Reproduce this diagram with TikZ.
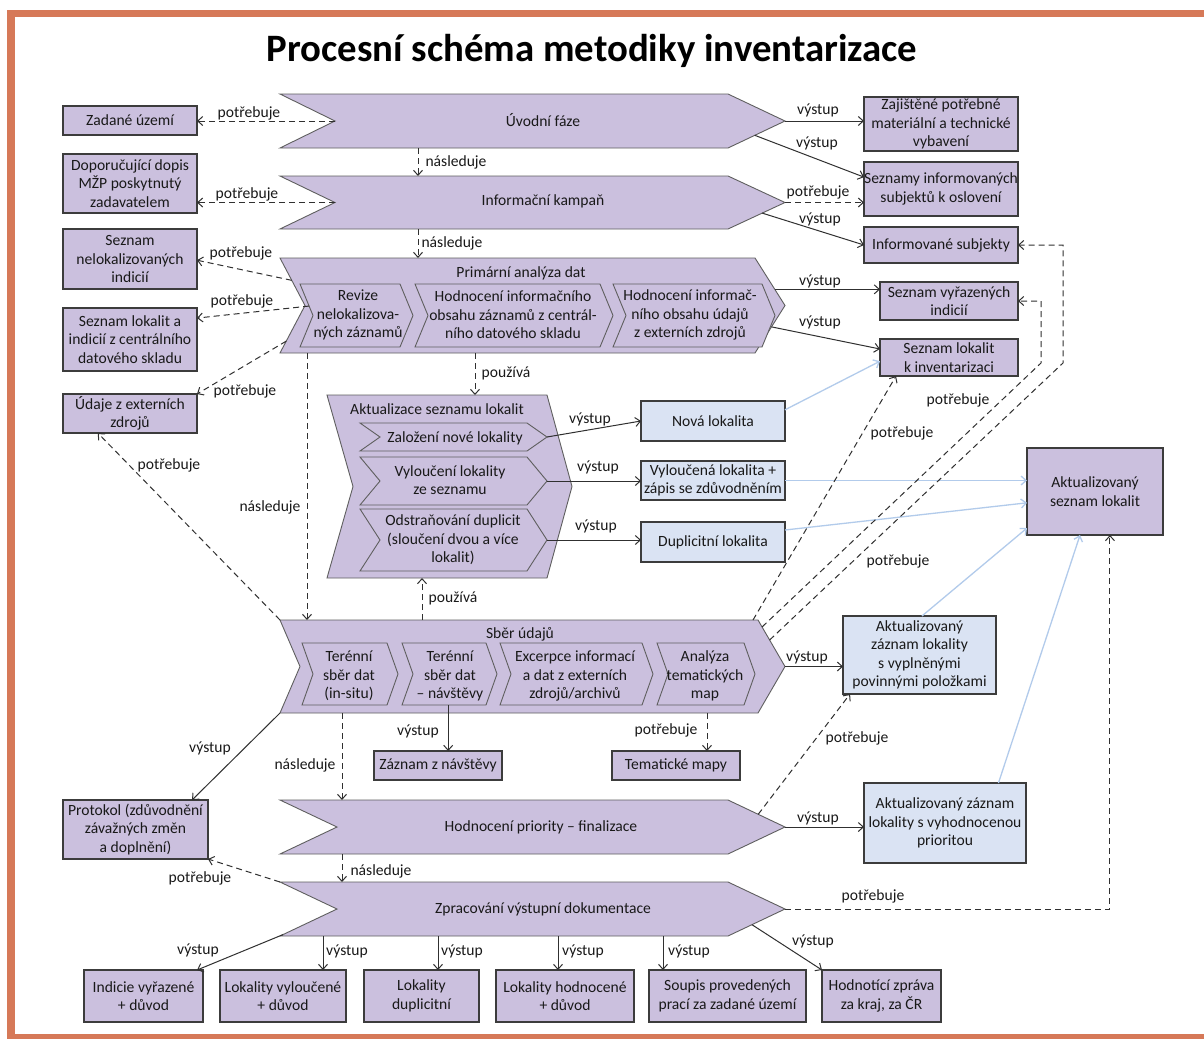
\documentclass[tikz,border=0pt]{standalone}
\usepackage{fontspec}
\setmainfont{Carlito}
\usetikzlibrary{arrows.meta,calc}

\definecolor{procfill}{RGB}{203,192,222}
\definecolor{outfill}{RGB}{218,227,243}
\definecolor{edgegray}{RGB}{60,60,60}
\definecolor{shapegray}{RGB}{95,95,95}
\definecolor{linkblue}{RGB}{178,203,235}
\definecolor{framecol}{RGB}{214,121,88}
\definecolor{inkcol}{RGB}{25,25,25}

\newcommand{\diagfont}{\fontsize{15.6}{18.4}\selectfont}

% process chevron: name, left x, top y, tip x, bottom y, notch depth, tip depth
\newcommand{\chevpath}[7]{%
  \path[chevshape] (#2,#3) -- ({#4-#7},#3) -- (#4,{(#3+#5)/2}) -- ({#4-#7},#5) -- (#2,#5) -- ({#2+#6},{(#3+#5)/2}) -- cycle;
  \coordinate (#1-nw) at (#2,#3);
  \coordinate (#1-ne) at ({#4-#7},#3);
  \coordinate (#1-tip) at (#4,{(#3+#5)/2});
  \coordinate (#1-se) at ({#4-#7},#5);
  \coordinate (#1-sw) at (#2,#5);
  \coordinate (#1-notch) at ({#2+#6},{(#3+#5)/2});
}
% rectangular box given by its corners: style, name, x1, y1, x2, y2, text
\newcommand{\boxnode}[7]{%
  \node[#1, minimum width={#5-#3}, minimum height={#6-#4}] (#2) at ({(#3+#5)/2},{(#4+#6)/2}) {#7};
}

\tikzset{
  chevshape/.style={fill=procfill, draw=shapegray, line width=0.9pt, line join=miter},
  pbox/.style={rectangle, fill=procfill, draw=edgegray, line width=1.3pt, inner sep=0pt, outer sep=0pt, align=center, text=inkcol},
  obox/.style={pbox, fill=outfill},
  txt/.style={align=center, text=inkcol, inner sep=0pt},
  lbl/.style={text=inkcol, inner sep=0pt},
  link/.style={draw=inkcol!90, line width=1pt, -{Straight Barb[length=5pt,width=9pt]}},
  dlink/.style={link, dash pattern=on 6pt off 4pt},
  blink/.style={draw=linkblue, line width=1.3pt, -{Straight Barb[length=5pt,width=9pt]}},
}

\begin{document}
\begin{tikzpicture}[x=1pt,y=-1pt,font=\diagfont]
\useasboundingbox (0,0) rectangle (1204,1039);
\fill[white] (0,0) rectangle (1204,1039);

% page frame
\fill[framecol] (7,10) rectangle (1204,17);
\fill[framecol] (7,10) rectangle (15,1039);
\fill[framecol] (7,1034) rectangle (1204,1039);

% title
\node[font=\fontsize{38.8}{44}\selectfont\bfseries, anchor=base, inner sep=0pt] (title) at (592,61) {Procesní schéma metodiky inventarizace};

% ---------- process chevrons ----------
\chevpath{uv}{280}{94}{785}{148}{55}{57}
\chevpath{ik}{280}{176}{785}{229}{55}{57}
\chevpath{pa}{280}{258}{785}{353}{25}{30}
\chevpath{pa1}{300}{284}{413}{347}{13}{13}
\chevpath{pa2}{415}{284}{613}{347}{13}{13}
\chevpath{pa3}{613}{284}{775}{347}{13}{13}
\chevpath{ak}{327}{395}{572}{578}{26}{25}
\chevpath{ak1}{360}{423}{547}{451}{20}{20}
\chevpath{ak2}{360}{457}{547}{505}{20}{20}
\chevpath{ak3}{360}{509}{547}{571}{20}{20}
\chevpath{sb}{280}{620}{785}{713}{20}{27}
\chevpath{sb1}{302}{643}{398}{705}{11}{11}
\chevpath{sb2}{402}{643}{497}{705}{11}{11}
\chevpath{sb3}{500}{643}{653}{705}{11}{11}
\chevpath{sb4}{657}{643}{755}{705}{11}{11}
\chevpath{hp}{280}{800}{785}{854}{57}{57}
\chevpath{zp}{280}{882}{785}{936}{57}{57}

\node[txt] (t-uv) at (543,120) {Úvodní fáze};
\node[txt] (t-ik) at (543,201) {Informační kampaň};
\node[txt] (t-pa) at (521,273) {Primární analýza dat};
\node[txt] (t-pa1) at (358,315) {Revize\\nelokalizova-\\ných záznamů};
\node[txt] (t-pa2) at (513,315) {Hodnocení informačního\\obsahu záznamů z centrál-\\ního datového skladu};
\node[txt] (t-pa3) at (690,315) {Hodnocení informač-\\ního obsahu údajů\\z externích zdrojů};
\node[txt] (t-ak) at (437,409) {Aktualizace seznamu lokalit};
\node[txt] (t-ak1) at (455,438) {Založení nové lokality};
\node[txt] (t-ak2) at (450,480) {Vyloučení lokality\\ze seznamu};
\node[txt] (t-ak3) at (453,540) {Odstraňování duplicit\\(sloučení dvou a více\\lokalit)};
\node[txt] (t-sb) at (520,634) {Sběr údajů};
\node[txt] (t-sb1) at (349,676) {Terénní\\sběr dat\\(in-situ)};
\node[txt] (t-sb2) at (450,676) {Terénní\\sběr dat\\– návštěvy};
\node[txt] (t-sb3) at (575,676) {Excerpce informací\\a dat z externích\\zdrojů/archivů};
\node[txt] (t-sb4) at (705,676) {Analýza\\tematických\\map};
\node[txt] (t-hp) at (541,827) {Hodnocení priority – finalizace};
\node[txt] (t-zp) at (543,909) {Zpracování výstupní dokumentace};

% ---------- boxes ----------
\boxnode{pbox}{zad}{63}{106}{197}{135}{Zadané území}
\boxnode{pbox}{dop}{63}{154}{197}{213}{Doporučující dopis\\MŽP poskytnutý\\zadavatelem}
\boxnode{pbox}{snl}{63}{229}{197}{289}{Seznam\\nelokalizovaných\\indicií}
\boxnode{pbox}{sli}{63}{308}{197}{371}{Seznam lokalit a\\indicií z centrálního\\datového skladu}
\boxnode{pbox}{ext}{63}{394}{197}{433}{Údaje z externích\\zdrojů}
\boxnode{pbox}{zaj}{864}{97}{1018}{151}{Zajištěné potřebné\\materiální a technické\\vybavení}
\boxnode{pbox}{sio}{864}{162}{1018}{216}{Seznamy informovaných\\subjektů k oslovení}
\boxnode{pbox}{inf}{864}{227}{1018}{263}{Informované subjekty}
\boxnode{pbox}{svi}{880}{282}{1018}{320}{Seznam vyřazených\\indicií}
\boxnode{pbox}{ski}{880}{339}{1018}{376}{Seznam lokalit\\k inventarizaci}
\boxnode{obox}{nov}{641}{401}{785}{441}{Nová lokalita}
\boxnode{obox}{vyl}{641}{461}{785}{500}{Vyloučená lokalita +\\zápis se zdůvodněním}
\boxnode{obox}{dup}{641}{522}{785}{562}{Duplicitní lokalita}
\boxnode{pbox}{asl}{1027}{448}{1163}{535}{Aktualizovaný\\seznam lokalit}
\boxnode{obox}{azl}{843}{616}{996}{694}{Aktualizovaný\\záznam lokality\\s vyplněnými\\povinnými položkami}
\boxnode{pbox}{zzn}{374}{751}{502}{780}{Záznam z návštěvy}
\boxnode{pbox}{tem}{612}{751}{740}{780}{Tematické mapy}
\boxnode{pbox}{pro}{63}{800}{208}{859}{Protokol (zdůvodnění\\závažných změn\\a doplnění)}
\boxnode{obox}{azp}{864}{783}{1026}{863}{Aktualizovaný záznam\\lokality s vyhodnocenou\\prioritou}
\boxnode{pbox}{b1}{84}{970}{203}{1022}{Indicie vyřazené\\+ důvod}
\boxnode{pbox}{b2}{220}{970}{346}{1022}{Lokality vyloučené\\+ důvod}
\boxnode{pbox}{b3}{364}{970}{479}{1022}{Lokality\\duplicitní}
\boxnode{pbox}{b4}{496}{970}{634}{1022}{Lokality hodnocené\\+ důvod}
\boxnode{pbox}{b5}{649}{970}{806}{1022}{Soupis provedených\\prací za zadané území}
\boxnode{pbox}{b6}{822}{970}{941}{1022}{Hodnotící zpráva\\za kraj, za ČR}

% ---------- turning points and attachment points ----------
\coordinate (k1) at (1063,363);
\coordinate (k2) at (1041,363);
\coordinate (cc) at ($(sb2-sw)!0.55!(sb2-se)$);
\coordinate (dd) at ($(sb-sw)+(427,0)$);
\coordinate (o1) at ($(zp-sw)+(43,0)$);
\coordinate (o2) at ($(zp-sw)+(158,0)$);
\coordinate (o3) at ($(zp-sw)+(278,0)$);
\coordinate (o4) at ($(zp-sw)+(383,0)$);
\coordinate (pi) at ($(pa-ne)!0.66!(pa-tip)$);

% ---------- connectors: first phases ----------
\draw[dlink] (uv-notch) -- (uv-notch -| zad.east);
\draw[dlink] (ik-notch) -- (ik-notch -| dop.east);
\draw[dlink] ($(uv-sw)+(138,0)$) -- ($(ik-nw)+(138,0)$);
\draw[dlink] ($(ik-sw)+(138,0)$) -- ($(pa-nw)+(138,0)$);
\draw[link] (uv-tip) -- (uv-tip -| zaj.west);
\draw[link] ($(uv-se)!0.47!(uv-tip)$) -- ($(sio.north west)!0.28!(sio.south west)$);
\draw[dlink] (ik-tip) -- (ik-tip -| sio.west);
\draw[link] ($(ik-se)!0.6!(ik-tip)$) -- (inf.west);

% primary analysis
\draw[link] (pi) -- (pi -| svi.west);
\draw[link] ($(pa-tip)!0.45!(pa-se)$) -- ($(ski.north west)!0.27!(ski.south west)$);
\draw[dlink] ($(pa-nw)!0.47!(pa-notch)$) -- ($(snl.north east)!0.52!(snl.south east)$);
\draw[dlink] ($(pa1-nw)!0.7!(pa1-notch)$) -- ($(sli.north east)!0.16!(sli.south east)$);
\draw[dlink] ($(pa-notch)!0.75!(pa-sw)$) -- (ext.north east);
\draw[dlink] ($(pa-sw)+(27,0)$) -- ($(sb-nw)+(27,0)$);
\draw[dlink] ($(pa-sw)+(195,0)$) -- ($(ak-nw)+(148,0)$);

% list update
\draw[dlink] ($(sb-nw)+(142,0)$) -- ($(ak-sw)+(95,0)$);
\draw[link] (ak1-tip) -- (nov.west);
\draw[link] (ak2-tip) -- (ak2-tip -| vyl.west);
\draw[link] (ak3-tip) -- (ak3-tip -| dup.west);
\draw[blink] ($(nov.north east)!0.22!(nov.south east)$) -- ($(ski.north west)!0.6!(ski.south west)$);
\draw[blink] (vyl.east) -- (vyl.east -| asl.west);
\draw[blink] ($(dup.north east)!0.2!(dup.south east)$) -- ($(asl.north west)!0.63!(asl.south west)$);
\draw[blink] ($(azl.north west)!0.516!(azl.north east)$) -- ($(asl.north west)!0.92!(asl.south west)$);
\draw[blink] ($(azp.north west)!0.83!(azp.north east)$) -- ($(asl.south west)!0.39!(asl.south east)$);

% data collection
\draw[dlink] (sb-nw) -- ($(ext.south west)!0.26!(ext.south east)$);
\draw[dlink] ($(sb-ne)+(-5,0)$) -- ($(ski.south west)!0.116!(ski.south east)$);
\draw[dlink] ($(sb-ne)!0.15!(sb-tip)$) -- (k2) |- (svi.east);
\draw[dlink] ($(sb-ne)!0.43!(sb-tip)$) -- (k1) |- (inf.east);
\draw[link] (sb-tip) -- (sb-tip -| azl.west);
\draw[link] (cc) -- (cc |- zzn.north);
\draw[dlink] (dd) -- (dd |- tem.north);
\draw[link] (sb-sw) -- ($(pro.north west)!0.89!(pro.north east)$);
\draw[dlink] ($(sb-sw)+(62,0)$) -- ($(hp-nw)+(62,0)$);

% priority evaluation and documentation
\draw[dlink] ($(hp-ne)!0.53!(hp-tip)$) -- ($(azl.south west)!0.046!(azl.south east)$);
\draw[link] (hp-tip) -- (hp-tip -| azp.west);
\draw[dlink] ($(hp-sw)+(62,0)$) -- ($(zp-nw)+(62,0)$);
\draw[dlink] (zp-nw) -- (pro.south east);
\draw[dlink] (zp-tip) -| ($(asl.south west)!0.61!(asl.south east)$);
\draw[link] ($(zp-notch)!0.95!(zp-sw)$) -- ($(b1.north west)!0.95!(b1.north east)$);
\draw[link] (o1) -- (o1 |- b2.north);
\draw[link] (o2) -- (o2 |- b3.north);
\draw[link] (o3) -- (o3 |- b4.north);
\draw[link] (o4) -- (o4 |- b5.north);
\draw[link] ($(zp-tip)!0.58!(zp-se)$) -- (b6.north west);

% ---------- connector labels ----------
\node[lbl] (l1) at (249,113) {potřebuje};
\node[lbl] (l2) at (247,194) {potřebuje};
\node[lbl] (l3) at (456,162) {následuje};
\node[lbl] (l4) at (452,243) {následuje};
\node[lbl] (l5) at (818,110) {výstup};
\node[lbl] (l6) at (817,143) {výstup};
\node[lbl] (l7) at (818,192) {potřebuje};
\node[lbl] (l8) at (820,219) {výstup};
\node[lbl] (l9) at (820,281) {výstup};
\node[lbl] (l10) at (820,322) {výstup};
\node[lbl] (l11) at (241,253) {potřebuje};
\node[lbl] (l12) at (242,301) {potřebuje};
\node[lbl] (l13) at (245,391) {potřebuje};
\node[lbl] (l14) at (270,507) {následuje};
\node[lbl] (l15) at (506,373) {používá};
\node[lbl] (l16) at (453,598) {používá};
\node[lbl] (l17) at (169,465) {potřebuje};
\node[lbl] (l18) at (590,419) {výstup};
\node[lbl] (l19) at (598,467) {výstup};
\node[lbl] (l20) at (596,526) {výstup};
\node[lbl] (l21) at (958,400) {potřebuje};
\node[lbl] (l22) at (902,433) {potřebuje};
\node[lbl] (l23) at (898,561) {potřebuje};
\node[lbl] (l24) at (807,657) {výstup};
\node[lbl] (l25) at (418,731) {výstup};
\node[lbl] (l26) at (666,730) {potřebuje};
\node[lbl] (l27) at (210,748) {výstup};
\node[lbl] (l28) at (305,765) {následuje};
\node[lbl] (l29) at (857,738) {potřebuje};
\node[lbl] (l30) at (818,818) {výstup};
\node[lbl] (l31) at (381,871) {následuje};
\node[lbl] (l32) at (200,878) {potřebuje};
\node[lbl] (l33) at (873,896) {potřebuje};
\node[lbl] (l34) at (198,950) {výstup};
\node[lbl] (l35) at (347,951) {výstup};
\node[lbl] (l36) at (462,951) {výstup};
\node[lbl] (l37) at (583,951) {výstup};
\node[lbl] (l38) at (689,951) {výstup};
\node[lbl] (l39) at (813,941) {výstup};
\end{tikzpicture}
\end{document}
